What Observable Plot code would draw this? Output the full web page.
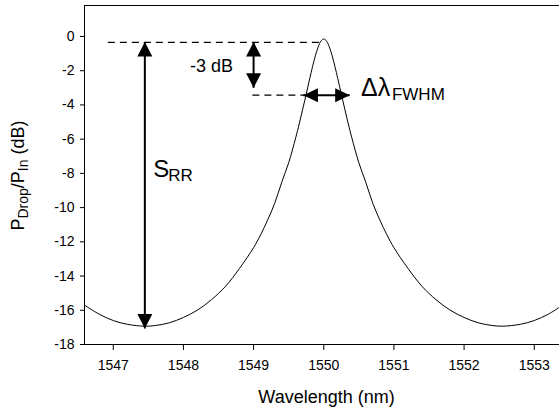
<!DOCTYPE html>
<html><head><meta charset="utf-8">
<script src="https://cdn.jsdelivr.net/npm/d3@7"></script>
<script src="https://cdn.jsdelivr.net/npm/@observablehq/plot@0.6"></script>
<style>
body{margin:0;background:#fff}
svg{font-family:"Liberation Sans",Arial,sans-serif}
</style>
</head><body><div id="chart"></div>
<script>
// Drop-port spectrum
const wavelength = [1546.59, 1546.80, 1547.00, 1547.20, 1547.45, 1547.60, 1547.80, 1548.00, 1548.20, 1548.40, 1548.60, 1548.80, 1549.00, 1549.10, 1549.20, 1549.30, 1549.40, 1549.50, 1549.60, 1549.65, 1549.70, 1549.75, 1549.80, 1549.84, 1549.88, 1549.92, 1549.96, 1550.00, 1550.04, 1550.08, 1550.12, 1550.16, 1550.20, 1550.25, 1550.30, 1550.35, 1550.40, 1550.50, 1550.60, 1550.70, 1550.80, 1550.90, 1551.00, 1551.20, 1551.40, 1551.60, 1551.80, 1552.00, 1552.20, 1552.40, 1552.55, 1552.80, 1553.00, 1553.20, 1553.36];
const dropDb = [-15.70, -16.23, -16.60, -16.82, -16.93, -16.89, -16.73, -16.42, -15.99, -15.38, -14.60, -13.55, -12.34, -11.59, -10.73, -9.76, -8.53, -7.38, -5.92, -5.11, -4.25, -3.37, -2.46, -1.77, -1.13, -0.62, -0.27, -0.15, -0.27, -0.62, -1.13, -1.77, -2.46, -3.37, -4.25, -5.11, -5.92, -7.38, -8.53, -9.76, -10.73, -11.59, -12.34, -13.55, -14.60, -15.38, -15.99, -16.42, -16.73, -16.89, -16.93, -16.82, -16.60, -16.23, -15.82];

const xTicks = [1547, 1548, 1549, 1550, 1551, 1552, 1553];
const yTicks = [0, -2, -4, -6, -8, -10, -12, -14, -16, -18];
const xDomain = [1546.59, 1553.36];
const yDomain = [-18, 1.81];

// Annotation values
const dashLevels = [-0.35, -3.43];
const dashFrom = [1546.93, 1548.99];
const dashTo = [1549.98, 1549.73];

// double arrows: [x1, y1, x2, y2]
const arrowX1 = [1547.45, 1549.00, 1549.71];
const arrowY1 = [-0.32, -0.32, -3.43];
const arrowX2 = [1547.45, 1549.00, 1550.37];
const arrowY2 = [-17.07, -3.00, -3.43];

const labelText = ["-3 dB", "S", "\u0394\u03bb"];
const labelX = [1548.40, 1547.57, 1550.53];
const labelY = [-1.72, -7.76, -3.04];
const subText = ["RR", "FWHM"];
const subX = [1547.57, 1550.53];
const subY = [-7.76, -3.04];

const arrows = arrowX1.map((x1, i) => ({x1, y1: arrowY1[i], x2: arrowX2[i], y2: arrowY2[i]}));
const dashes = dashLevels.map((y, i) => ({y, x1: dashFrom[i], x2: dashTo[i]}));
const curve = wavelength.map((x, i) => ({x, y: dropDb[i]}));

// filled arrowhead symbols, tip at the anchor point
const headUp = {draw(c){c.moveTo(0,0);c.lineTo(7.5,14.5);c.lineTo(-7.5,14.5);c.closePath();}};
const headDown = {draw(c){c.moveTo(0,0);c.lineTo(7.5,-14.5);c.lineTo(-7.5,-14.5);c.closePath();}};
const headLeft = {draw(c){c.moveTo(0,0);c.lineTo(14.5,-7);c.lineTo(14.5,7);c.closePath();}};
const headRight = {draw(c){c.moveTo(0,0);c.lineTo(-14.5,-7);c.lineTo(-14.5,7);c.closePath();}};

const vert = arrows.filter(a => a.x1 === a.x2);
const horiz = arrows.filter(a => a.y1 === a.y2);

const chart = Plot.plot({
  width: 559,
  height: 414,
  marginLeft: 84,
  marginRight: 0,
  marginTop: 5,
  marginBottom: 70,
  style: {fontFamily: "'Liberation Sans', Arial, sans-serif", fontSize: "14px", color: "black", background: "white"},
  x: {domain: xDomain},
  y: {domain: yDomain},
  marks: [
    Plot.ruleY(dashes, {y: "y", x1: "x1", x2: "x2", stroke: "black", strokeWidth: 1.3, strokeDasharray: "7,5"}),
    Plot.line(curve, {x: "x", y: "y", curve: "catmull-rom", stroke: "black", strokeWidth: 1, clip: true}),
    Plot.link(arrows, {x1: "x1", y1: "y1", x2: "x2", y2: "y2", stroke: "black", strokeWidth: 2}),
    Plot.dot(vert, {x: "x1", y: "y1", symbol: headUp, fill: "black", stroke: null}),
    Plot.dot(vert, {x: "x2", y: "y2", symbol: headDown, fill: "black", stroke: null}),
    Plot.dot(horiz, {x: "x1", y: "y1", symbol: headLeft, fill: "black", stroke: null}),
    Plot.dot(horiz, {x: "x2", y: "y2", symbol: headRight, fill: "black", stroke: null}),
    Plot.text([0], {x: () => labelX[0], y: () => labelY[0], text: () => labelText[0], fontSize: 18, textAnchor: "middle", fill: "black"}),
    Plot.text([1], {x: () => labelX[1], y: () => labelY[1], text: () => labelText[1], fontSize: 24, textAnchor: "start", fill: "black"}),
    Plot.text([2], {x: () => labelX[2], y: () => labelY[2], text: () => labelText[2], fontSize: 25, textAnchor: "start", fill: "black"}),
    Plot.text([0], {x: () => subX[0], y: () => subY[0], text: () => subText[0], fontSize: 17, textAnchor: "start", dx: 15, dy: 6.5, fill: "black"}),
    Plot.text([1], {x: () => subX[1], y: () => subY[1], text: () => subText[1], fontSize: 17, textAnchor: "start", dx: 31, dy: 5.7, fill: "black"}),
    Plot.ruleX([xDomain[0]], {stroke: "black", strokeWidth: 1}),
    Plot.ruleY([yDomain[0]], {stroke: "black", strokeWidth: 1}),
    Plot.ruleY([yDomain[1]], {stroke: "black", strokeWidth: 1}),
    Plot.axisX({ticks: xTicks, tickFormat: d => String(d), tickSize: 6, tickPadding: 10, label: null, fontSize: 14, stroke: "black"}),
    Plot.axisY({ticks: yTicks, tickFormat: d => String(d), tickSize: 4, tickPadding: 6, label: null, fontSize: 14, stroke: "black"}),
    Plot.text(["Wavelength (nm)"], {frameAnchor: "bottom", lineAnchor: "middle", dy: 53, dx: 4.5, fontSize: 18, fill: "black"})
  ]
});

const svg = d3.select(chart);
const t = svg.append("text")
  .attr("transform", "translate(24,175.5) rotate(-90)")
  .attr("text-anchor", "middle")
  .attr("font-size", 18)
  .attr("fill", "black");
t.append("tspan").text("P");
t.append("tspan").attr("font-size", 14).attr("dy", 4).text("Drop");
t.append("tspan").attr("dy", -4).text("/P");
t.append("tspan").attr("font-size", 14).attr("dy", 4).text("In");
t.append("tspan").attr("dy", -4).text(" (dB)");

document.getElementById("chart").appendChild(chart);
</script>
</body></html>
